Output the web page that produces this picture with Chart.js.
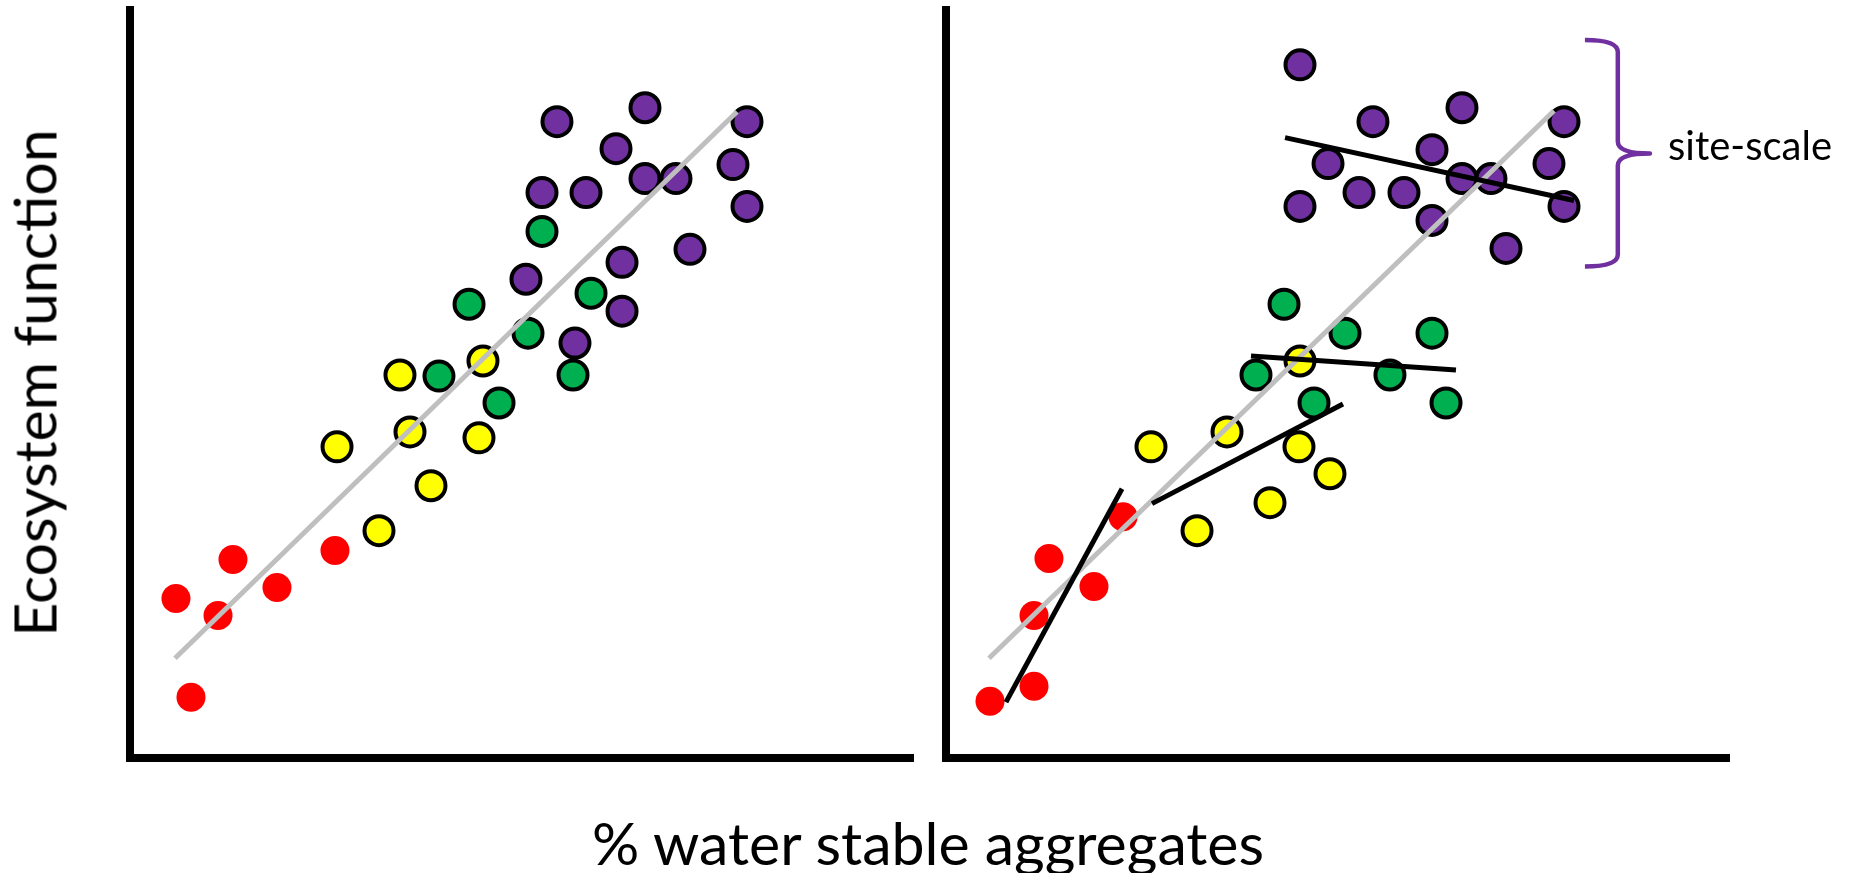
<!DOCTYPE html>
<html>
<head>
<meta charset="utf-8">
<script src="https://cdn.jsdelivr.net/npm/chart.js@4/dist/chart.umd.min.js"></script>
<style>
  html, body { margin: 0; padding: 0; background: #fff; }
  #wrap { position: relative; width: 1856px; height: 873px; overflow: hidden; background: #fff; }
  canvas { position: absolute; left: 0; top: 0; }
  .txt { position: absolute; font-family: Lato, "Open Sans", sans-serif; color: #000; white-space: nowrap; line-height: 1; }
  #ytitle { font-size: 59px; left: 34px; top: 383px; transform: translate(-50%, -50%) rotate(-90deg); }
  #xtitle { font-size: 59px; left: 928px; top: 813px; transform: translateX(-50%); }
  #site { font-size: 40px; left: 1668px; top: 125px; }
</style>
</head>
<body>
<div id="wrap">
  <canvas id="left" width="1856" height="873"></canvas>
  <canvas id="right" width="1856" height="873"></canvas>
  <div class="txt" id="ytitle">Ecosystem function</div>
  <div class="txt" id="xtitle">% water stable aggregates</div>
  <div class="txt" id="site">site-scale</div>
</div>
<script>
// ---------- data: left panel (all sites pooled) ----------
const leftRed    = [[5.87,21.28],[7.79,8.07],[11.24,19.01],[13.15,26.48],[18.77,22.75],[26.18,27.69]];
const leftYellow = [[26.44,41.56],[31.80,30.35],[34.48,51.17],[35.76,43.56],[38.44,36.36],[44.57,42.76],[45.08,53.04]];
const leftGreen  = [[39.46,51.03],[43.30,60.64],[47.13,47.43],[50.83,56.77],[52.62,70.38],[56.58,51.17],[58.88,62.11]];
const leftPurple = [[54.53,85.06],[52.62,75.58],[50.57,63.98],[56.83,55.44],[58.24,75.58],[62.07,81.45],[62.84,66.24],
                    [62.84,59.71],[65.77,86.92],[65.77,77.45],[69.73,77.45],[71.52,67.98],[77.01,79.32],[78.80,85.06],[78.80,73.72]];
const leftTrend  = [[5.75,13.28],[77.52,86.39]];

// ---------- data: right panel (site-scale) ----------
const rightRed    = [[5.62,7.54],[11.24,9.54],[11.24,19.01],[13.15,26.62],[18.90,22.88],[22.61,32.22]];
const rightYellow = [[26.18,41.56],[32.06,30.35],[35.89,43.56],[41.38,34.09],[45.08,41.56],[45.21,53.04],[49.04,37.96]];
const rightGreen  = [[39.59,51.17],[43.17,60.64],[47.00,47.43],[50.96,56.77],[56.70,51.17],[62.07,56.77],[63.86,47.43]];
const rightPurple = [[45.21,92.66],[54.53,85.06],[65.90,86.92],[78.93,85.06],[48.79,79.45],[62.07,81.32],[77.01,79.45],
                     [52.75,75.58],[58.49,75.58],[65.90,77.45],[69.60,77.45],[45.21,73.72],[62.07,71.85],[78.93,73.72],[71.52,68.11]];
const rightTrend  = [[5.49,13.28],[77.65,86.52]];
const siteRedFit    = [[7.66,7.41],[22.48,35.96]];
const siteYellowFit = [[26.31,33.96],[50.70,47.30]];
const siteGreenFit  = [[38.95,53.70],[65.13,51.83]];
const sitePurpleFit = [[43.30,82.92],[80.20,74.52]];
// bracket extent (data units): x of tips, spine, point; y of top, middle, bottom
const bracketX = [81.6, 85.8, 89.9];
const bracketY = [96.0, 80.8, 65.7];

const COLORS = { red: '#FF0000', yellow: '#FFFF00', green: '#00B050', purple: '#7030A0', gray: '#BFBFBF' };

const toXY = arr => arr.map(p => ({ x: p[0], y: p[1] }));

function pts(arr, color, outlined, order) {
  return {
    data: toXY(arr), showLine: false, order: order, clip: false,
    pointRadius: 14.5, pointHoverRadius: 14.5,
    pointBackgroundColor: color,
    pointBorderColor: outlined ? '#000' : color,
    pointBorderWidth: outlined ? 4 : 0,
    pointHoverBorderWidth: outlined ? 4 : 0
  };
}
function line(arr, color, width, order) {
  return {
    data: toXY(arr), showLine: true, order: order, clip: false,
    borderColor: color, borderWidth: width, pointRadius: 0, pointHoverRadius: 0,
    borderCapStyle: 'butt', fill: false
  };
}

function makeOptions(padLeft, padRight) {
  const axis = {
    type: 'linear', min: 0, max: 100,
    grid: { display: false, drawTicks: false },
    ticks: { display: false },
    border: { display: true, color: '#000', width: 8 }
  };
  return {
    responsive: false, animation: false, devicePixelRatio: 1,
    layout: { autoPadding: false, padding: { left: padLeft, right: padRight, top: 10, bottom: 115.5 } },
    plugins: { legend: { display: false }, tooltip: { enabled: false } },
    events: [],
    scales: { x: Object.assign({}, axis), y: Object.assign({}, axis) }
  };
}

new Chart(document.getElementById('left'), {
  type: 'scatter',
  data: { datasets: [
    line(leftTrend, COLORS.gray, 5, 1),
    pts(leftPurple, COLORS.purple, true, 2),
    pts(leftGreen, COLORS.green, true, 3),
    pts(leftYellow, COLORS.yellow, true, 4),
    pts(leftRed, COLORS.red, false, 5)
  ] },
  options: makeOptions(130, 1856 - 913)
});

const bracketPlugin = {
  id: 'bracket',
  afterDatasetsDraw(chart) {
    const xs = chart.scales.x, ys = chart.scales.y, ctx = chart.ctx;
    const xe = xs.getPixelForValue(bracketX[0]);
    const xsp = xs.getPixelForValue(bracketX[1]);
    const xt = xs.getPixelForValue(bracketX[2]);
    const yt = ys.getPixelForValue(bracketY[0]);
    const ym = ys.getPixelForValue(bracketY[1]);
    const yb = ys.getPixelForValue(bracketY[2]);
    const r = 12;
    ctx.save();
    ctx.strokeStyle = COLORS.purple; ctx.lineWidth = 4.5; ctx.lineJoin = 'round'; ctx.lineCap = 'butt';
    ctx.beginPath();
    ctx.moveTo(xe, yt);
    ctx.quadraticCurveTo(xsp, yt, xsp, yt + r);
    ctx.lineTo(xsp, ym - r);
    ctx.quadraticCurveTo(xsp, ym, xt, ym);
    ctx.quadraticCurveTo(xsp, ym, xsp, ym + r);
    ctx.lineTo(xsp, yb - r);
    ctx.quadraticCurveTo(xsp, yb, xe, yb);
    ctx.stroke();
    ctx.restore();
  }
};

new Chart(document.getElementById('right'), {
  type: 'scatter',
  data: { datasets: [
    line(siteRedFit, '#000', 5, 0),
    line(siteYellowFit, '#000', 5, 0),
    line(siteGreenFit, '#000', 5, 0),
    line(sitePurpleFit, '#000', 5, 0),
    line(rightTrend, COLORS.gray, 5, 1),
    pts(rightPurple, COLORS.purple, true, 2),
    pts(rightGreen, COLORS.green, true, 3),
    pts(rightYellow, COLORS.yellow, true, 4),
    pts(rightRed, COLORS.red, false, 5)
  ] },
  options: makeOptions(946, 1856 - 1729),
  plugins: [bracketPlugin]
});
</script>
</body>
</html>
